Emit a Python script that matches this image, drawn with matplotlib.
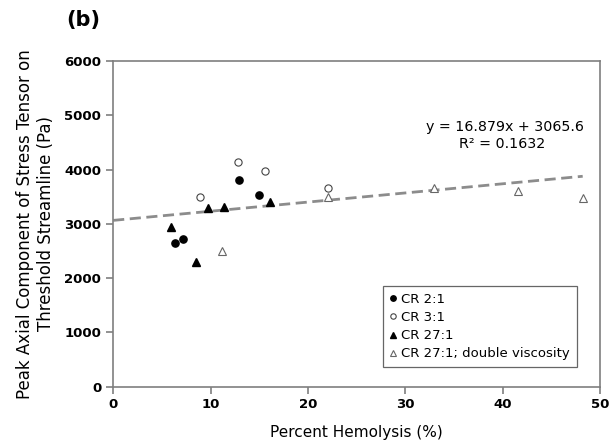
import numpy as np
import matplotlib
matplotlib.use("Agg")
import matplotlib.pyplot as plt

# data
cr2_x = [6.3, 7.2, 12.95, 15.0]
cr2_y = [2645, 2725, 3815, 3535]

cr3_x = [8.9, 12.85, 15.6, 22.05]
cr3_y = [3505, 4150, 3985, 3670]

cr27_x = [5.9, 8.5, 9.75, 11.4, 16.15]
cr27_y = [2945, 2305, 3290, 3315, 3400]

cr27dv_x = [11.15, 22.1, 32.9, 41.6, 48.2]
cr27dv_y = [2500, 3490, 3670, 3610, 3485]

slope = 16.879
intercept = 3065.6
r2 = 0.1632

plt.rcParams['font.family'] = ['DejaVu Sans']

fig = plt.figure(figsize=(6.15, 4.47), dpi=100)
ax = fig.add_axes([0.184, 0.135, 0.792, 0.728])

ax.plot(cr2_x, cr2_y, 'o', color='black', ms=5.2, ls='none', label='CR 2:1')
ax.plot(cr3_x, cr3_y, 'o', mfc='white', mec='#444444', mew=0.8, ms=5.2,
        ls='none', label='CR 3:1')
ax.plot(cr27_x, cr27_y, '^', color='black', ms=5.2, ls='none', label='CR 27:1')
ax.plot(cr27dv_x, cr27dv_y, '^', mfc='white', mec='#666666', mew=0.8, ms=5.2,
        ls='none', label='CR 27:1; double viscosity')

# trendline
tx = np.array([0, max(cr27dv_x)])
ax.plot(tx, slope * tx + intercept, color='#8c8c8c', lw=2, ls=(0, (4, 2)),
        zorder=1)

ax.text(48.3, 4780, 'y = %.3fx + %.1f' % (slope, intercept), ha='right',
        va='center', fontsize=10.3)
ax.text(39.9, 4480, 'R\u00b2 = %.4f' % r2, ha='center', va='center',
        fontsize=10.3)

ax.set_xlim(0, 50)
ax.set_ylim(0, 6000)
ax.set_xticks(range(0, 51, 10))
ax.set_yticks(range(0, 6001, 1000))
for s in ax.spines.values():
    s.set_color('#7f7f7f')
    s.set_linewidth(1.2)
ax.tick_params(direction='out', length=5, color='#7f7f7f', width=1.2,
               labelsize=9.5)
for lab in ax.get_xticklabels() + ax.get_yticklabels():
    lab.set_fontweight('bold')

ax.set_xlabel('Percent Hemolysis (%)', fontsize=11, labelpad=10)
ax.set_ylabel('Peak Axial Component of Stress Tensor on\nThreshold Streamline (Pa)',
              fontsize=12, labelpad=7)

leg = ax.legend(loc='lower right', bbox_to_anchor=(0.965, 0.04),
                fontsize=9.5, markerscale=0.75, handlelength=0.6,
                handletextpad=0.3, labelspacing=0.4, borderpad=0.5,
                frameon=True, fancybox=False)
leg.get_frame().set_edgecolor('#404040')
leg.get_frame().set_linewidth(0.9)

fig.text(0.108, 0.955, '(b)', fontsize=15, fontweight='bold', va='center')

fig.savefig('out.png', dpi=100)
